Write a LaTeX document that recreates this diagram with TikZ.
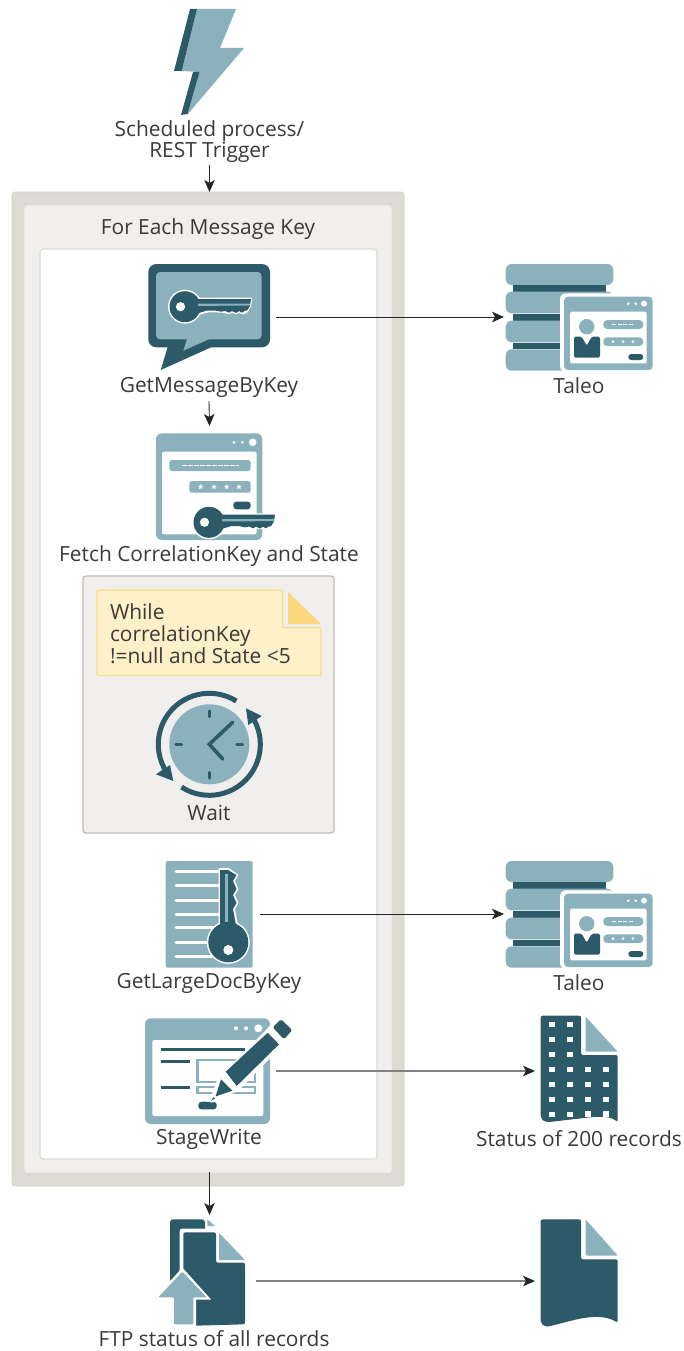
\documentclass[tikz,border=0pt]{standalone}
\usepackage{fontspec}
\setmainfont{Open Sans}
\usetikzlibrary{arrows.meta}
\definecolor{dk}{HTML}{2C5A68}
\definecolor{lt}{HTML}{8BB1BC}
\definecolor{band}{HTML}{DEDBD5}
\definecolor{bandedge}{HTML}{D3D0CA}
\definecolor{pane}{HTML}{F1EFED}
\definecolor{noteF}{HTML}{FEF0C8}
\definecolor{noteE}{HTML}{F9DB8C}
\definecolor{foldF}{HTML}{FAD67C}
\definecolor{ink}{HTML}{3C3A38}
\definecolor{greyline}{HTML}{808080}
\tikzset{
  lbl/.style={inner sep=0pt,outer sep=0pt,text=ink,align=center,font=\fontsize{20.9}{21}\selectfont},
  iconbox/.style={inner sep=0pt,outer sep=0pt,minimum width=#1},
  frameouter/.style={draw=bandedge,fill=band,rounded corners=3pt,line width=.8pt,inner sep=0pt,outer sep=0pt},
  framemid/.style={draw=white!60!band,fill=pane,rounded corners=3pt,line width=1.2pt,inner sep=0pt,outer sep=0pt},
  frameinner/.style={draw=band,fill=white,rounded corners=3pt,line width=1.2pt,inner sep=0pt,outer sep=0pt},
  framewait/.style={draw=black!14!band,fill=pane,rounded corners=3pt,line width=1.2pt,inner sep=0pt,outer sep=0pt},
  conn/.style={draw=black!85,line width=.9pt,-{Stealth[length=12pt,width=10.5pt,inset=3pt]}},
  conngrey/.style={draw=greyline,line width=1.3pt,-{Stealth[length=12pt,width=10.5pt,inset=3pt,black!85]}}
}
% tiny star, white
\newcommand\tinystar[2]{\fill[white] (#1,#2) +(0,-2.8) -- +(.8,-.8) -- +(2.8,-.8) -- +(1.1,.6) -- +(1.8,2.6) -- +(0,1.3) -- +(-1.8,2.6) -- +(-1.1,.6) -- +(-2.8,-.8) -- +(-.8,-.8) -- cycle;}
% horizontal key; origin = head centre
\newcommand\keyglyph[1]{%
  \fill[#1,rounded corners=1pt] (8,-9) -- (67.5,-9) -- (66,0) -- (62,6.5) -- (57,7.5) -- (54,6) -- (51,7.5) -- (47,6) -- (44,7.5) -- (38,6) -- (24,5.5) -- (10,9) -- cycle;
  \fill[#1] (0,0) circle (17);
  \fill[dk] (0,0) circle (15.5);
  \fill[dk] (8,-7.6) -- (66,-7.6) -- (65,-1) -- (62,4) -- (60,4) -- (57,6) -- (54,4.4) -- (51,6.2) -- (47,4.4) -- (44,6) -- (40,4.2) -- (36,5) -- (30,3.8) -- (22,3.8) -- (10,7.5) -- cycle;
  \fill[white] (-4.5,0) circle (4.6);
  \fill[lt] (13,-3.2) -- (65,-3.2) -- (64.6,-1.2) -- (13,-.8) -- cycle;
}
% Taleo icon, origin at image coords for the first copy
\newcommand\taleoglyph{%
  \fill[lt,rounded corners=6pt] (505.7,264) rectangle (613.3,285);
  \fill[dk] (513.3,285) rectangle (605.7,291.7);
  \fill[lt,rounded corners=6pt] (505.7,291.7) rectangle (613.3,313.3);
  \fill[dk] (513.3,314.3) rectangle (605.7,321);
  \fill[lt,rounded corners=6pt] (505.7,320.7) rectangle (613.3,342.3);
  \fill[dk] (513.3,342.7) rectangle (605.7,349.3);
  \fill[lt,rounded corners=6pt] (505.7,349.3) rectangle (613.3,370.7);
  \fill[white,rounded corners=6pt] (560,293.3) rectangle (656,372);
  \fill[lt,rounded corners=4pt] (564,296.7) rectangle (652.7,370);
  \fill[white,rounded corners=1.5pt] (570,311.7) rectangle (646.7,363.3);
  \fill[white] (628.3,303.7) circle (1.4) (635.7,303.7) circle (1.4) (644,303.7) circle (3);
  \fill[lt] (586.7,326.7) circle (7.7);
  \fill[dk,rounded corners=1.5pt] (574,336.7) -- (581.7,336.7) -- (586.7,345.7) -- (591.7,336.7) -- (600,336.7) -- (600,357.7) -- (574,357.7) -- cycle;
  \fill[lt,rounded corners=4pt] (603.3,320) rectangle (643.3,329);
  \draw[white,line width=1.1pt,dash pattern=on 4pt off 1.6pt] (612,324.5) -- (634,324.5);
  \fill[lt,rounded corners=4pt] (603.3,337.3) rectangle (643.3,346);
  \fill[white] (613,341.7) circle (1.5) (623,341.7) circle (1.5) (633,341.7) circle (1.5);
  \fill[dk,rounded corners=3pt] (628.3,354) rectangle (643.3,360);
}
\begin{document}
\begin{tikzpicture}[x=1pt,y=-1pt]
\useasboundingbox (0,0) rectangle (684,1351);
% frames
\node[frameouter,minimum width=392pt,minimum height=994pt] (outer) at (208,689) {};
\node[framemid,minimum width=366pt,minimum height=966pt] (mid) at (208,689) {};
\node[frameinner,minimum width=337pt,minimum height=910pt] (inner) at (208.5,704) {};
\node[framewait,minimum width=251pt,minimum height=257pt] (waitbox) at (208.5,704.5) {};

% trigger bolt
\node[iconbox=70pt,minimum height=106pt] (bolt) at (209,62) {};
\fill[lt] (197,9) -- (236,9) -- (220,48) -- (244,48) -- (187,115) -- (199.5,72) -- (181.7,71) -- cycle;
\fill[dk] (190,9) -- (197,9) -- (181.7,71) -- (174,71) -- cycle;
\fill[dk] (193,72) -- (199.5,72) -- (187.5,114) -- (181,115) -- cycle;

% labels
\node[lbl,minimum height=47pt] (triglbl) at (209.5,142) {Scheduled process/\\REST Trigger};
\node[lbl] (foreach) at (208,229) {For Each Message Key};
\node[lbl,minimum height=28pt] (msglbl) at (209,387) {GetMessageByKey};
\node[lbl] (fetchlbl) at (209,556) {Fetch CorrelationKey and State};
\node[lbl] (waitlbl) at (209,813) {Wait};
\node[lbl] (largelbl) at (209,983) {GetLargeDocByKey};
\node[lbl] (stagelbl) at (209,1139) {StageWrite};
\node[lbl] (ftplbl) at (214,1339) {FTP status of all records};
\node[lbl] (taleolbla) at (579,386) {Taleo};
\node[lbl] (taleolblb) at (579,983) {Taleo};
\node[lbl] (statuslbl) at (579,1139) {Status of 200 records};

% GetMessageByKey icon
\node[iconbox=133pt,minimum height=100pt] (msgicon) at (209.5,317) {};
\fill[dk,rounded corners=8pt] (148.3,264) rectangle (270,347.3);
\fill[dk] (168,346) -- (160.7,370) -- (214,346) -- cycle;
\fill[lt,rounded corners=4pt] (156,272) rectangle (261.7,339.3);
\fill[lt] (187.3,338) -- (183.3,350.7) -- (211.7,338) -- cycle;
\begin{scope}[shift={(185,306.7)}]\keyglyph{white}\end{scope}

% Fetch icon
\node[iconbox=120pt,minimum height=114pt] (fetchicon) at (209.5,483) {};
\fill[lt,rounded corners=6pt] (156,433.3) rectangle (262.3,540);
\fill[white,rounded corners=2pt] (162,451.7) rectangle (256.7,534.3);
\fill[white] (234,442.3) circle (1.5) (242.3,442.3) circle (1.5) (252.7,442.3) circle (3.8);
\fill[lt,rounded corners=2.5pt] (169.3,460) rectangle (250.7,471);
\draw[white,line width=1.4pt,dash pattern=on 5pt off 1pt] (181.7,465.3) -- (239.3,465.3);
\fill[lt,rounded corners=2.5pt] (189.3,481) rectangle (250.7,492.7);
\tinystar{200.7}{486.7}\tinystar{214}{486.7}\tinystar{226.7}{486.7}\tinystar{239}{486.7}
\fill[dk,rounded corners=3pt] (233.3,501.7) rectangle (250.7,509.3);
\begin{scope}[shift={(209,522.3)}]\keyglyph{white}\end{scope}

% note
\node[inner sep=0pt,outer sep=0pt,minimum width=224pt,minimum height=86pt] (notebox) at (209,633) {};
\draw[noteE,fill=noteF,line width=1.2pt,rounded corners=2pt] (97,590) -- (282.7,590) -- (282.7,627.7) -- (321,627.7) -- (321,675.5) -- (97,675.5) -- cycle;
\fill[foldF] (288,592) -- (321,624) -- (288,624) -- cycle;
\node[lbl,anchor=west,align=left,font=\fontsize{20.9}{21.8}\selectfont] (notetxt) at (110,633.5) {While\\correlationKey\\!=null and State <5};

% clock
\node[iconbox=110pt,minimum height=110pt] (clockicon) at (209.3,744.3) {};
\fill[lt] (209.3,744.3) circle (40);
\draw[dk,line width=5pt] (209.3,744.3) ++(-58:51) arc (-58:-212:51);
\draw[dk,line width=5pt] (209.3,744.3) ++(-237:51) arc (-237:-391:51);
\fill[dk] (156,774.3) -- (170,765) -- (173.3,781) -- cycle;
\fill[dk] (261.7,716) -- (246,708.3) -- (248.3,725) -- cycle;
\draw[dk,line width=3.6pt,line cap=round,line join=miter] (232.7,722.3) -- (209.3,744.3) -- (222.7,759);
\draw[dk,line width=3.4pt,line cap=round] (209.3,711) -- (209.3,716.5) (209.3,772.5) -- (209.3,778) (176,744.3) -- (181.5,744.3) (237,744.3) -- (242.5,744.3);

% GetLargeDocByKey icon
\node[iconbox=102pt,minimum height=107pt] (largeicon) at (209,914) {};
\fill[lt,rounded corners=2pt] (165.7,861) rectangle (252.7,967.7);
\draw[white,line width=3pt,line cap=round] (176,871.7) -- (220,871.7) (176,885.7) -- (220,885.7) (176,900) -- (220,900) (176,914) -- (220,914) (176,927.7) -- (215,927.7) (176,942) -- (208,942) (176,956) -- (212,956);
\fill[white] (228.3,942.3) circle (21.5);
\fill[white] (218.5,868) -- (229,868) -- (238.5,875) -- (235,881) -- (238.5,889) -- (235,895) -- (238.5,903) -- (235,909) -- (238,925) -- (218.5,925) -- cycle;
\fill[dk] (228.3,942.3) circle (20);
\fill[dk] (220,870) -- (228,870) -- (236.5,875) -- (233,881) -- (236.5,889) -- (233,895) -- (236.5,903) -- (233,909) -- (236,925) -- (220,925) -- cycle;
\fill[lt] (225,874) rectangle (228,922);
\fill[white] (228.3,950) circle (5);

% StageWrite icon
\node[iconbox=131pt,minimum height=106pt] (stageicon) at (210.5,1071) {};
\fill[lt,rounded corners=6pt] (145,1018.3) rectangle (270,1124);
\fill[white,rounded corners=2pt] (152.3,1040) rectangle (263.3,1116);
\fill[white] (236,1028.3) circle (2) (246,1028.3) circle (2) (258.3,1028.3) circle (4);
\draw[dk,line width=3.4pt] (161,1049.3) -- (245,1049.3) (161,1061.7) -- (190,1061.7) (161,1087.7) -- (190,1087.7);
\draw[lt,line width=2.4pt] (197.5,1060) rectangle (255,1082) (197.5,1087) rectangle (255,1093);
\fill[white] (265,1031) -- (271,1024.5) -- (281,1015.5) -- (296,1030) -- (284,1044) -- (238,1091) -- (216,1100) -- (209,1103) -- (212,1094) -- (218,1078) -- cycle;
\fill[dk,rounded corners=1.5pt] (272.7,1027.3) -- (281,1019.3) -- (292.3,1030) -- (284,1039.3) -- cycle;
\fill[dk] (267.7,1032.7) -- (279,1044.3) -- (236.7,1086) -- (225.7,1071.7) -- cycle;
\fill[dk] (221,1079.3) -- (232.3,1090.7) -- (215.5,1096.5) -- cycle;
\fill[dk] (213.5,1097) -- (215,1098.5) -- (211,1100.7) -- cycle;
\fill[dk,rounded corners=3pt] (198.3,1102) -- (207,1101.5) -- (212,1103) -- (216.7,1101.5) -- (216.7,1109.3) -- (198.3,1109.3) -- cycle;

% Taleo icons
\node[iconbox=149pt,minimum height=108pt] (taleoa) at (578.5,317) {};
\node[iconbox=149pt,minimum height=108pt] (taleob) at (578.5,914) {};
\taleoglyph
\begin{scope}[shift={(0,597)}]\taleoglyph\end{scope}

% Status doc
\node[iconbox=83pt,minimum height=108pt] (statusdoc) at (576.5,1071) {};
\fill[dk,rounded corners=2pt] (540.7,1020) -- (540.7,1015.7) -- (581,1015.7) -- (581,1055) -- (617.7,1055) -- (617.7,1122) .. controls (610,1116) and (600,1116) .. (580,1118.5) .. controls (565,1120) and (552,1122) .. (545,1122) -- (540.7,1118) -- cycle;
\fill[lt,rounded corners=1pt] (585.7,1016.7) -- (617.7,1051.7) -- (585.7,1051.7) -- cycle;
\foreach \yy in {1024.3,1039.3,1054.3,1069.7,1084.3,1099.3,1114.3}{
  \foreach \xx in {552,570}{\fill[white] (\xx-2.7,\yy-2.7) rectangle (\xx+2.7,\yy+2.7);}}
\foreach \yy in {1069.7,1084.3,1099.3,1114}{
  \foreach \xx in {588,606}{\fill[white] (\xx-2.7,\yy-2.7) rectangle (\xx+2.7,\yy+2.7);}}

% FTP icon
\node[iconbox=93pt,minimum height=132pt] (ftpicon) at (209.5,1281) {};
\fill[dk,rounded corners=3pt] (170,1282) -- (170,1219.3) -- (205,1219.3) -- (205,1240) -- (178,1282) -- cycle;
\fill[lt] (207.3,1219.3) -- (215,1226) -- (207.3,1226) -- cycle;
\fill[white,rounded corners=3pt] (179.5,1326) -- (179.5,1228.5) -- (218,1228.5) -- (218,1240) -- (183,1326) -- cycle;
\fill[dk,rounded corners=2pt] (183.3,1326) -- (183.3,1232.3) -- (216,1232.3) -- (216,1262.7) -- (245,1262.7) -- (245,1324.3) -- cycle;
\fill[lt,rounded corners=1pt] (219,1232.7) -- (245,1260) -- (219,1260) -- cycle;
\fill[white] (182.3,1267.5) -- (211,1299.5) -- (196,1299.5) -- (196,1327) -- (171,1327) -- (171,1299.5) -- (154,1299.5) -- cycle;
\fill[lt,rounded corners=1pt] (182.3,1271.7) -- (206.7,1297.3) -- (193.3,1297.3) -- (193.3,1324.3) -- (174,1324.3) -- (174,1297.3) -- (158.3,1297.3) -- cycle;

% Plain doc
\node[iconbox=83pt,minimum height=108pt] (plaindoc) at (576.5,1281) {};
\fill[dk,rounded corners=2pt] (540.7,1225) -- (540.7,1219.3) -- (581,1219.3) -- (581,1259.3) -- (617.7,1259.3) -- (617.7,1322.7) .. controls (605,1315) and (590,1316) .. (570,1321) .. controls (558,1324) and (550,1326.5) .. (545,1326.5) -- (540.7,1323) -- cycle;
\fill[lt,rounded corners=1pt] (585.7,1219.5) -- (617.7,1255.5) -- (585.7,1255.5) -- cycle;

% connectors
\draw[conn] (triglbl.south) -- (triglbl.south |- outer.north);
\draw[conn] (msgicon.east) -- (taleoa.west);
\draw[conn] (msglbl.south) -- (fetchicon.north);
\draw[conn] (largeicon.east) -- (taleob.west);
\draw[conngrey] (stageicon.east) -- (statusdoc.west);
\draw[conn] (ftpicon.north |- mid.south) -- (ftpicon.north);
\draw[conngrey] (ftpicon.east) -- (plaindoc.west);
\end{tikzpicture}
\end{document}
